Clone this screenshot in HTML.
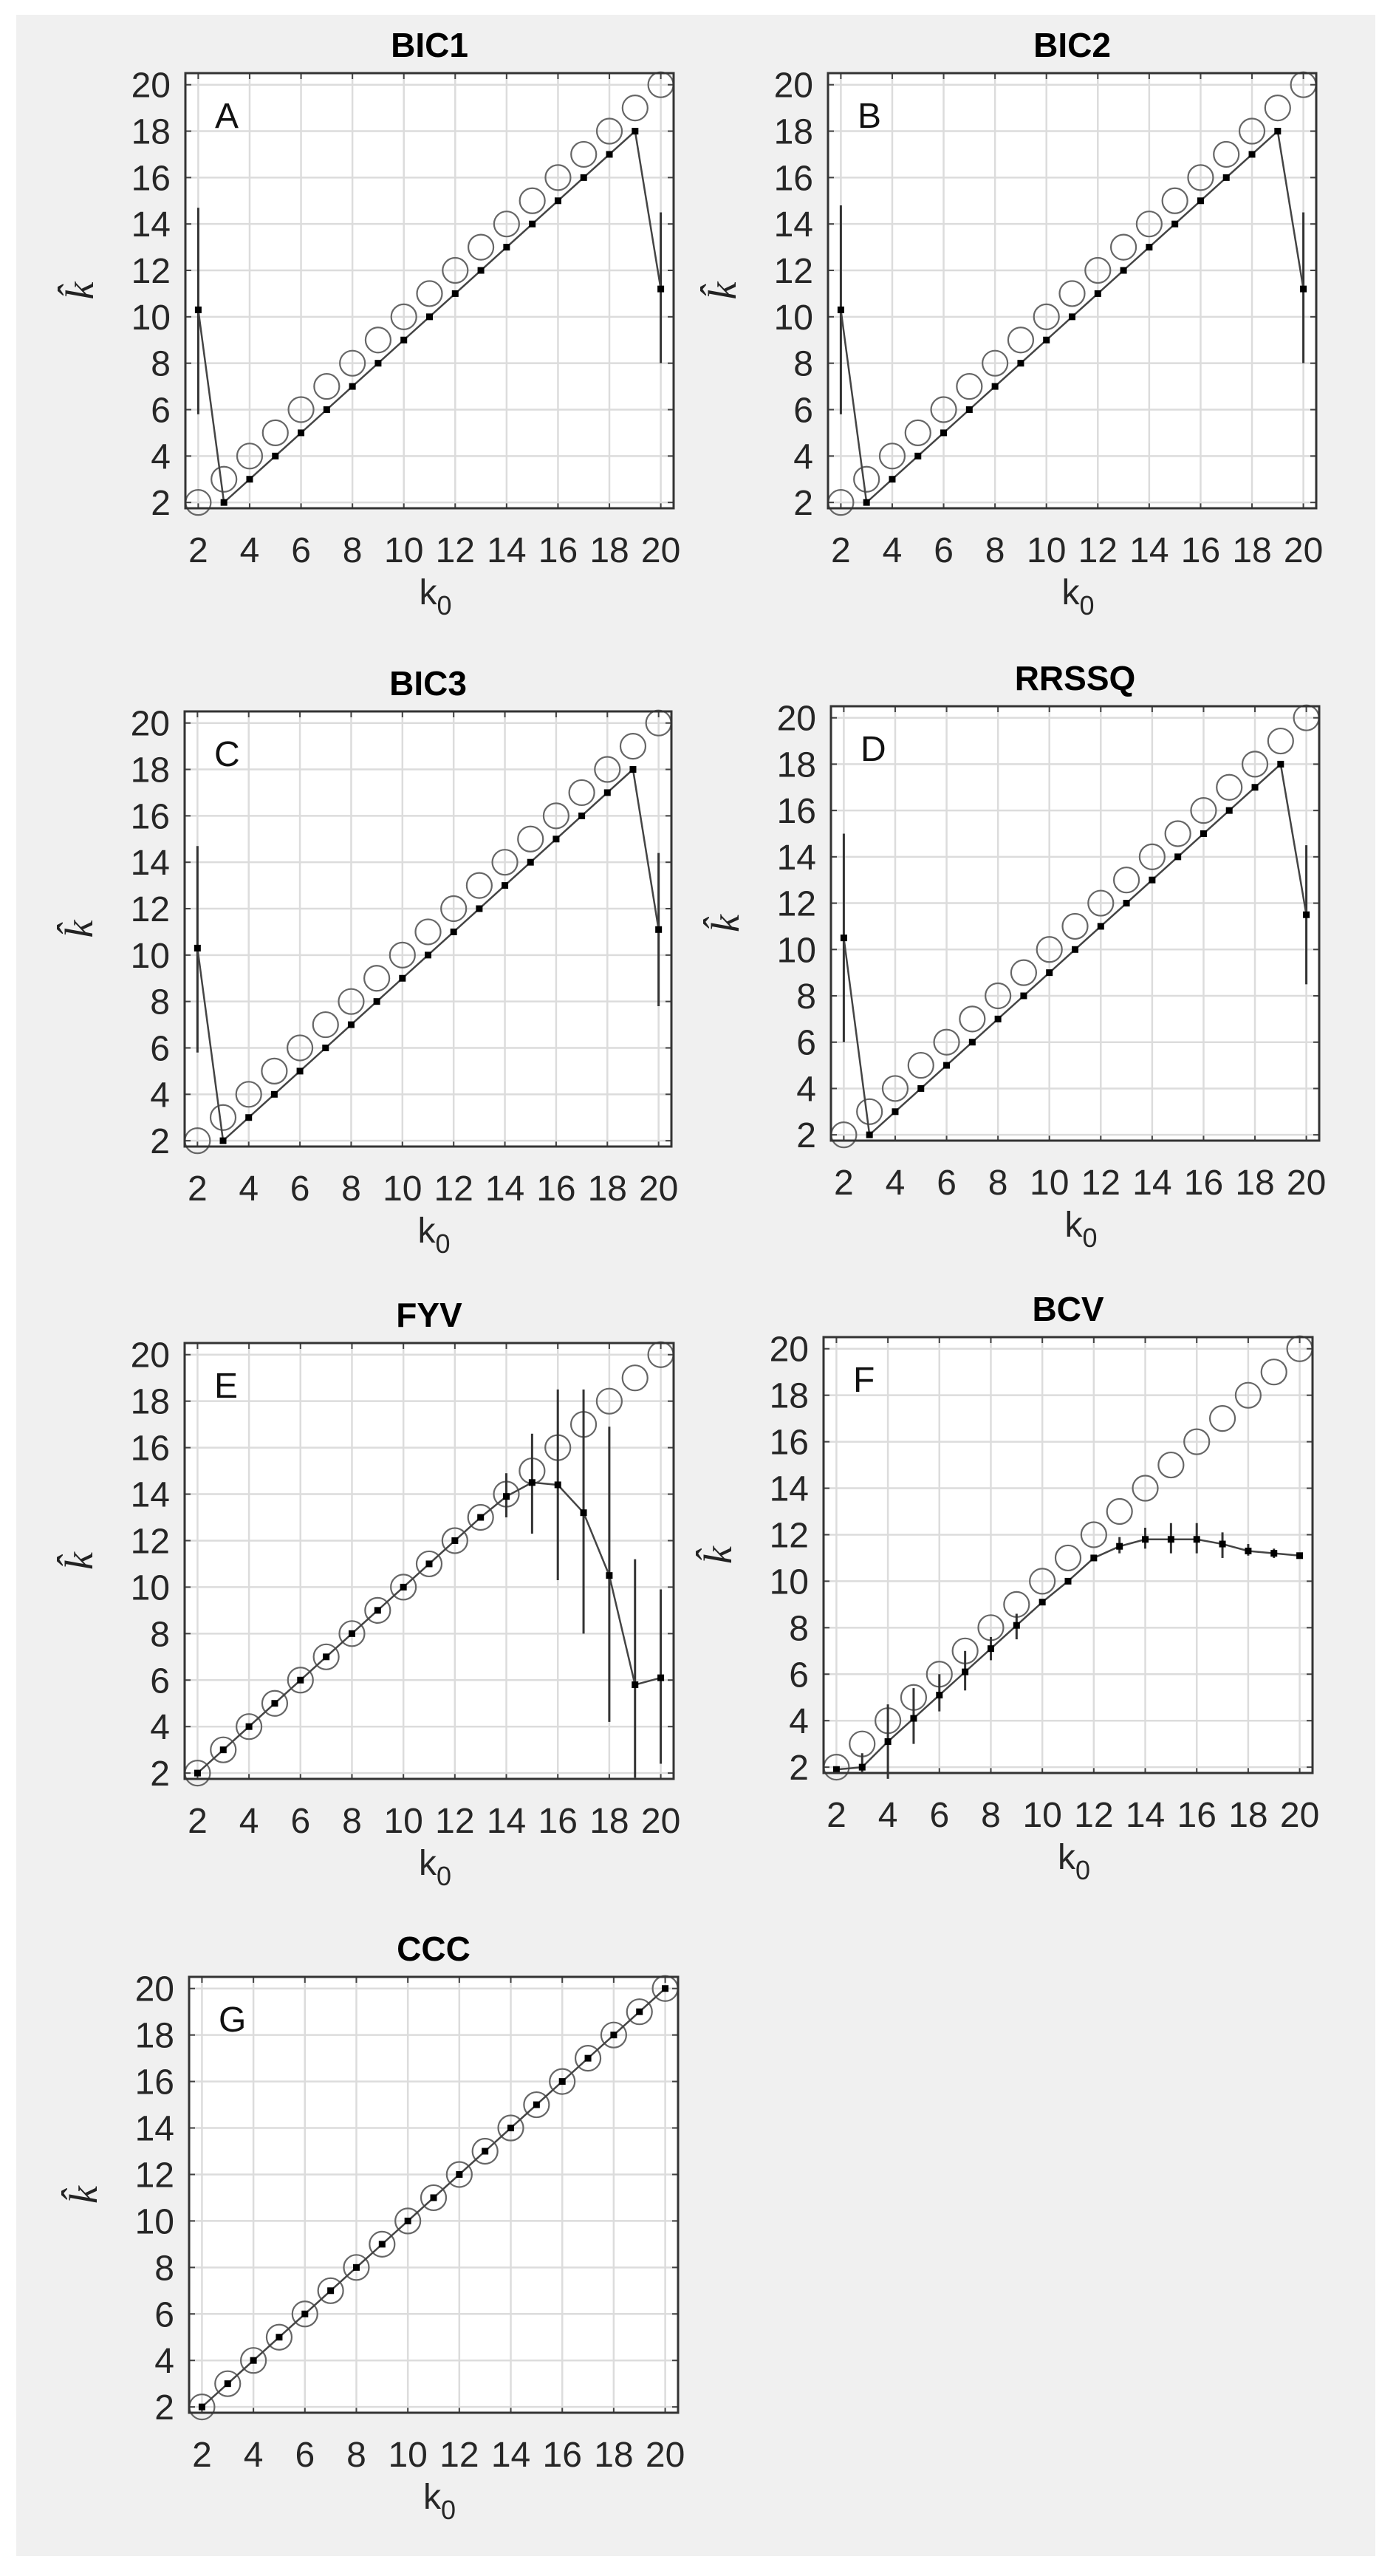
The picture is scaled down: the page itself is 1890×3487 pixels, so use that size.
<!DOCTYPE html>
<html><head><meta charset="utf-8">
<style>
html,body{margin:0;padding:0;background:#fff;}
svg{display:block;font-family:"Liberation Sans",sans-serif;}
</style></head>
<body>
<svg id="fig" width="1890" height="3487" viewBox="0 0 1890 3487" xmlns="http://www.w3.org/2000/svg">
<rect x="22" y="20" width="1840" height="3440" fill="#f0f0f0"/>
</svg>
<script>
// shared data
const k0 = [2,3,4,5,6,7,8,9,10,11,12,13,14,15,16,17,18,19,20];
const xTicks = [2,4,6,8,10,12,14,16,18,20];
const yTicks = [2,4,6,8,10,12,14,16,18,20];
// BIC1
const bic1Mean = [10.3,2.0,3,4,5,6,7,8,9,10,11,12,13,14,15,16,17,18,11.2];
const bic1Lo   = [5.8,2.0,3,4,5,6,7,8,9,10,11,12,13,14,15,16,17,18,8.0];
const bic1Hi   = [14.7,2.0,3,4,5,6,7,8,9,10,11,12,13,14,15,16,17,18,14.5];
// BIC2
const bic2Mean = [10.3,2.0,3,4,5,6,7,8,9,10,11,12,13,14,15,16,17,18,11.2];
const bic2Lo   = [5.8,2.0,3,4,5,6,7,8,9,10,11,12,13,14,15,16,17,18,8.0];
const bic2Hi   = [14.8,2.0,3,4,5,6,7,8,9,10,11,12,13,14,15,16,17,18,14.5];
// BIC3
const bic3Mean = [10.3,2.0,3,4,5,6,7,8,9,10,11,12,13,14,15,16,17,18,11.1];
const bic3Lo   = [5.8,2.0,3,4,5,6,7,8,9,10,11,12,13,14,15,16,17,18,7.8];
const bic3Hi   = [14.7,2.0,3,4,5,6,7,8,9,10,11,12,13,14,15,16,17,18,14.4];
// RRSSQ
const rrssqMean = [10.5,2.0,3,4,5,6,7,8,9,10,11,12,13,14,15,16,17,18,11.5];
const rrssqLo   = [6.0,2.0,3,4,5,6,7,8,9,10,11,12,13,14,15,16,17,18,8.5];
const rrssqHi   = [15.0,2.0,3,4,5,6,7,8,9,10,11,12,13,14,15,16,17,18,14.5];
// FYV
const fyvMean = [2,3,4,5,6,7,8,9,10,11,12,13,13.9,14.5,14.4,13.2,10.5,5.8,6.1];
const fyvLo   = [2,3,4,5,6,7,8,9,10,11,12,13,13.0,12.3,10.3,8.0,4.2,1.8,2.4];
const fyvHi   = [2,3,4,5,6,7,8,9,10,11,12,13,14.9,16.6,18.5,18.5,16.9,11.2,9.9];
// BCV
const bcvMean = [1.9,2.0,3.1,4.1,5.1,6.1,7.1,8.1,9.1,10.0,11.0,11.5,11.8,11.8,11.8,11.6,11.3,11.2,11.1];
const bcvLo   = [1.8,1.8,1.5,3.0,4.4,5.3,6.6,7.5,9.0,10.0,11.0,11.2,11.4,11.2,11.2,11.0,11.1,11.0,11.0];
const bcvHi   = [2.0,2.6,4.7,5.4,6.0,7.0,7.6,8.6,9.2,10.0,11.0,11.9,12.3,12.5,12.5,12.1,11.6,11.4,11.2];
// CCC
const cccMean = [2,3,4,5,6,7,8,9,10,11,12,13,14,15,16,17,18,19,20];
const cccLo   = [2,3,4,5,6,7,8,9,10,11,12,13,14,15,16,17,18,19,20];
const cccHi   = [2,3,4,5,6,7,8,9,10,11,12,13,14,15,16,17,18,19,20];

const NS = "http://www.w3.org/2000/svg";
const svg = document.getElementById('fig');
const XMIN=1.5, XMAX=20.5, YMIN=1.75, YMAX=20.5;

const panels = [
 {id:'bic1', title:'BIC1', letter:'A', L:251, R:912, T:99, B:688, mean:bic1Mean, lo:bic1Lo, hi:bic1Hi},
 {id:'bic2', title:'BIC2', letter:'B', L:1121, R:1782, T:99, B:688, mean:bic2Mean, lo:bic2Lo, hi:bic2Hi},
 {id:'bic3', title:'BIC3', letter:'C', L:250, R:909, T:963, B:1552, mean:bic3Mean, lo:bic3Lo, hi:bic3Hi},
 {id:'rrssq', title:'RRSSQ', letter:'D', L:1125, R:1786, T:956, B:1544, mean:rrssqMean, lo:rrssqLo, hi:rrssqHi},
 {id:'fyv', title:'FYV', letter:'E', L:250, R:912, T:1818, B:2408, mean:fyvMean, lo:fyvLo, hi:fyvHi},
 {id:'bcv', title:'BCV', letter:'F', L:1115, R:1777, T:1810, B:2400, mean:bcvMean, lo:bcvLo, hi:bcvHi},
 {id:'ccc', title:'CCC', letter:'G', L:256, R:918, T:2676, B:3266, mean:cccMean, lo:cccLo, hi:cccHi}
];

function mk(tag, attrs, parent){
  const e=document.createElementNS(NS,tag);
  for(const k in attrs) e.setAttribute(k,attrs[k]);
  parent.appendChild(e); return e;
}

panels.forEach(p=>{
  const g=mk('g',{},svg);
  
  
  const sx=v=>p.L+(v-XMIN)/(XMAX-XMIN)*(p.R-p.L);
  const sy=v=>p.B-(v-YMIN)/(YMAX-YMIN)*(p.B-p.T);
  const bg=mk('rect',{x:p.L,y:p.T,width:p.R-p.L,height:p.B-p.T,fill:'#fff'},g);
  
  
  xTicks.forEach(t=>{
    const l=mk('line',{x1:sx(t),x2:sx(t),y1:p.T,y2:p.B,stroke:'#dcdcdc','stroke-width':2.5},g);
    
    
    mk('line',{x1:sx(t),x2:sx(t),y1:p.T,y2:p.T+8,stroke:'#444','stroke-width':2},g);
    mk('line',{x1:sx(t),x2:sx(t),y1:p.B,y2:p.B-8,stroke:'#444','stroke-width':2},g);
    const tx=mk('text',{x:sx(t),y:p.B+73,'font-size':48,'text-anchor':'middle',fill:'#262626'},g);
    tx.textContent=t;
    
    
  });
  yTicks.forEach(t=>{
    const l=mk('line',{x1:p.L,x2:p.R,y1:sy(t),y2:sy(t),stroke:'#dcdcdc','stroke-width':2.5},g);
    
    
    mk('line',{x1:p.L,x2:p.L+8,y1:sy(t),y2:sy(t),stroke:'#444','stroke-width':2},g);
    mk('line',{x1:p.R,x2:p.R-8,y1:sy(t),y2:sy(t),stroke:'#444','stroke-width':2},g);
    const tx=mk('text',{x:p.L-20,y:sy(t)+17,'font-size':48,'text-anchor':'end',fill:'#262626'},g);
    tx.textContent=t;
    
    
  });
  k0.forEach((k,i)=>{
    const c=mk('circle',{cx:sx(k),cy:sy(k),r:17,fill:'none',stroke:'#666','stroke-width':2.2},g);
    
    
  });
  k0.forEach((k,i)=>{
    if(p.hi[i]-p.lo[i]<0.05) return;
    const l=mk('line',{x1:sx(k),x2:sx(k),y1:sy(p.lo[i]),y2:sy(p.hi[i]),stroke:'#333','stroke-width':3},g);
    
    
  });
  const pts=k0.map((k,i)=>sx(k)+','+sy(p.mean[i])).join(' ');
  const pl=mk('polyline',{points:pts,fill:'none',stroke:'#444','stroke-width':2.5},g);
  
  
  k0.forEach((k,i)=>{
    const d=mk('rect',{x:sx(k)-4.5,y:sy(p.mean[i])-4.5,width:9,height:9,fill:'#000'},g);
    
    
  });
  const box=mk('rect',{x:p.L,y:p.T,width:p.R-p.L,height:p.B-p.T,fill:'none',stroke:'#333','stroke-width':3},g);
  
  
  const cx=(p.L+p.R)/2;
  const ti=mk('text',{x:cx,y:p.T-22,'font-size':46,'font-weight':'bold','text-anchor':'middle',fill:'#000'},g);
  ti.textContent=p.title;
  
  
  const le=mk('text',{x:p.L+40,y:p.T+74,'font-size':48,fill:'#111'},g);
  le.textContent=p.letter;
  
  
  const xl=mk('text',{x:cx-14,y:p.B+130,'font-size':48,fill:'#262626'},g);
  xl.innerHTML='k<tspan dy="14" font-size="36">0</tspan>';
  
  
  const yy=(p.T+p.B)/2;
  const yl=mk('text',{x:p.L-125,y:yy,'font-size':54,'font-style':'italic','font-family':'Liberation Serif, serif','text-anchor':'middle',fill:'#222',transform:'rotate(-90 '+(p.L-125)+' '+yy+')'},g);
  yl.textContent='k\u0302';
  
  
});
</script>
</body></html>
